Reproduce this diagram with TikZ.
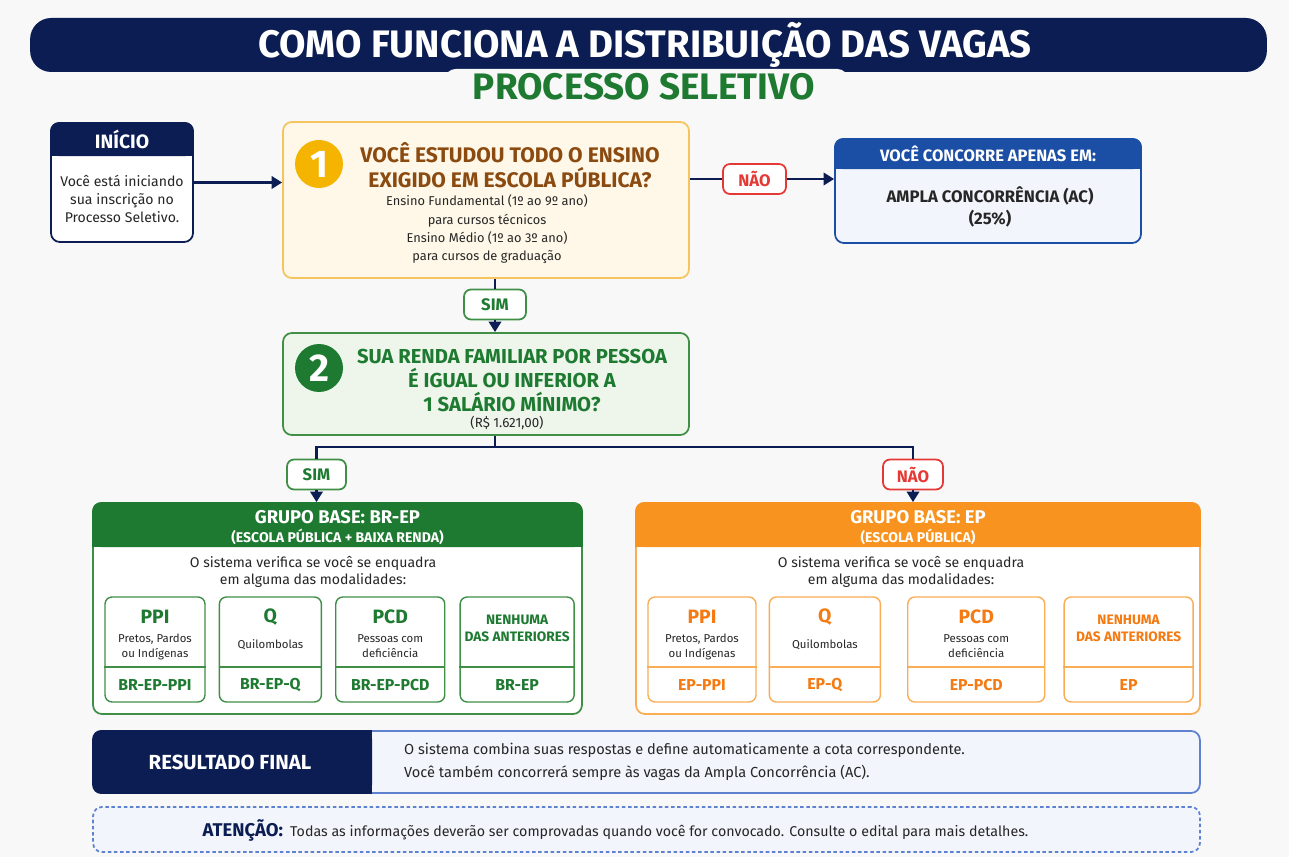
\documentclass[tikz,border=0pt]{standalone}
\usepackage{fontspec}
\setmainfont{Fira Sans}
\usetikzlibrary{calc, positioning, arrows.meta}

\definecolor{navy}{HTML}{0B1D52}
\definecolor{grn}{HTML}{1E7A31}
\definecolor{grnline}{HTML}{3F8F47}
\definecolor{grnfill}{HTML}{EEF6EC}
\definecolor{brwn}{HTML}{8A4A10}
\definecolor{gold}{HTML}{F5B400}
\definecolor{goldline}{HTML}{F6C45E}
\definecolor{goldfill}{HTML}{FFF8E8}
\definecolor{nored}{HTML}{E53935}
\definecolor{blu}{HTML}{1B4FA6}
\definecolor{bluline}{HTML}{5E82D0}
\definecolor{blufill}{HTML}{F2F5FC}
\definecolor{org}{HTML}{F7931E}
\definecolor{orgtxt}{HTML}{F47A12}
\definecolor{orgline}{HTML}{F9AE55}
\definecolor{txtgray}{HTML}{262626}
\definecolor{bg}{HTML}{F8F8F8}

\begin{document}
\begin{tikzpicture}[
        x=0.02cm, y=-0.02cm,
        box/.style={
            draw,
            rounded corners=5pt,
            line width=1pt,
            inner sep=0pt
        },
        tag/.style={
            draw,
            fill=white,
            rounded corners=4pt,
            line width=1pt,
            minimum height=0.6cm,
            font=\fontsize{9.5}{11}\selectfont\bfseries
        },
        link/.style={line width=1.6pt, draw=navy},
        arrow/.style={-{Triangle[length=6pt,width=7pt]}, line width=1.6pt, draw=navy},
        num/.style={circle, minimum size=0.96cm, inner sep=0pt, text=white,
            font=\fontsize{22}{22}\selectfont\bfseries},
        hdr/.style={text=white, align=center, font=\fontsize{11}{13}\selectfont\bfseries},
        qtitle/.style={align=center, font=\fontsize{12}{14.2}\selectfont\bfseries},
        body/.style={align=center, text=txtgray, font=\fontsize{7.3}{10.4}\selectfont},
        grphdr/.style={text=white, font=\fontsize{10.5}{12}\selectfont\bfseries},
        grpsub/.style={text=white, font=\fontsize{8}{10}\selectfont\bfseries},
        grpbody/.style={align=center, text=txtgray, font=\fontsize{8}{9.7}\selectfont},
        modbr/.style={box, draw=grnline, fill=white, minimum height=2.1cm, rounded corners=4pt, line width=0.8pt},
        modep/.style={box, draw=orgline, fill=white, minimum height=2.1cm, rounded corners=4pt, line width=0.8pt},
        modttl/.style={font=\fontsize{11}{13}\selectfont\bfseries},
        modsub/.style={align=center, text=txtgray, font=\fontsize{6.5}{8.5}\selectfont},
        modcode/.style={font=\fontsize{9}{11}\selectfont\bfseries},
        modnone/.style={align=center, font=\fontsize{7.8}{9.7}\selectfont\bfseries},
        restxt/.style={text=txtgray, font=\fontsize{8.3}{13}\selectfont}
    ]

    \useasboundingbox (0,0) rectangle (1289,857);
    \fill[bg] (0,0) rectangle (1289,857);

    % Title
    \node[fill=navy, rounded corners=12pt, minimum width=24.74cm, minimum height=1.08cm] (titlebar) at (648.5,45) {};
    \fill[bg, rounded corners=6pt] (445,69) rectangle (848,104);
    \node[text=white, font=\fontsize{21.8}{24}\selectfont\bfseries] (title) at (645,45) {COMO FUNCIONA A DISTRIBUIÇÃO DAS VAGAS};
    \node[text=grn, font=\fontsize{21}{24}\selectfont\bfseries] (subtitle) at (644,87) {PROCESSO SELETIVO};

    % Start
    \node[box, draw=navy, fill=white, minimum width=2.84cm, minimum height=2.38cm] (inicio) at (122,182.5) {};
    \fill[navy, rounded corners=5pt] (inicio.north west) rectangle ($(inicio.north east)+(0,34)$);
    \fill[navy] ($(inicio.north west)+(0,20)$) rectangle ($(inicio.north east)+(0,34)$);
    \node[hdr] (inicioh) at ($(inicio.north)+(0,17)$) {INÍCIO};
    \node[body, font=\fontsize{8}{10.2}\selectfont] (iniciob) at (122,199) {Você está iniciando\\ sua inscrição no\\ Processo Seletivo.};

    % Question 1
    \node[box, draw=goldline, fill=goldfill, minimum width=8.12cm, minimum height=3.12cm] (q1) at (486,200) {};
    \node[num, fill=gold] (num1) at (319,164) {1};
    \node[qtitle, text=brwn] (q1t) at (510,165.5) {VOCÊ ESTUDOU TODO O ENSINO\\ EXIGIDO EM ESCOLA PÚBLICA?};
    \node[body] (q1b) at (487,229.5) {Ensino Fundamental (1º ao 9º ano)\\ para cursos técnicos\\ Ensino Médio (1º ao 3º ano)\\ para cursos de graduação};

    % Answer no
    \node[tag, draw=nored, text=nored, minimum width=1.26cm] (nao1) at (754.5,179) {NÃO};

    \node[box, draw=blu, fill=blufill, minimum width=6.12cm, minimum height=2.08cm] (ac) at (988,191) {};
    \fill[blu, rounded corners=5pt] (ac.north west) rectangle ($(ac.north east)+(0,31)$);
    \fill[blu] ($(ac.north west)+(0,18)$) rectangle ($(ac.north east)+(0,31)$);
    \node[hdr, font=\fontsize{9.4}{10}\selectfont\bfseries] (ach) at ($(ac.north)+(0,16)$) {VOCÊ CONCORRE APENAS EM:};
    \node[align=center, text=txtgray, font=\fontsize{9.5}{12.5}\selectfont\bfseries] (acb) at (990,207) {AMPLA CONCORRÊNCIA (AC)\\ (25\%)};

    % Question 2
    \node[tag, draw=grnline, text=grn, minimum width=1.24cm] (sim1) at (495,304.5) {SIM};

    \node[box, draw=grnline, fill=grnfill, minimum width=8.12cm, minimum height=2.04cm] (q2) at (486,384) {};
    \node[num, fill=grn] (num2) at (319,368) {2};
    \node[qtitle, text=grn, font=\fontsize{11.5}{13.4}\selectfont\bfseries] (q2t) at (512,380.5) {SUA RENDA FAMILIAR POR PESSOA\\ É IGUAL OU INFERIOR A\\ 1 SALÁRIO MÍNIMO?};
    \node[body, font=\fontsize{7.6}{10}\selectfont] (q2b) at (507,423) {(R\$ 1.621,00)};

    \node[tag, draw=grnline, text=grn, minimum width=1.18cm] (sim2) at (316.5,474.5) {SIM};
    \node[tag, draw=nored, text=nored, minimum width=1.2cm] (nao2) at (913,474.5) {NÃO};
    \coordinate (split) at (495,447);

    % Groups
    \node[box, draw=grnline, fill=white, minimum width=9.78cm, minimum height=4.22cm] (grpbr) at (337.5,608.5) {};
    \fill[grn, rounded corners=5pt] (grpbr.north west) rectangle ($(grpbr.north east)+(0,45)$);
    \fill[grn] ($(grpbr.north west)+(0,25)$) rectangle ($(grpbr.north east)+(0,45)$);
    \node[grphdr] (grpbrh) at ($(grpbr.north)+(0,15)$) {GRUPO BASE: BR-EP};
    \node[grpsub] (grpbrs) at ($(grpbr.north)+(0,35)$) {(ESCOLA PÚBLICA + BAIXA RENDA)};
    \node[grpbody] (grpbrb) at (313,571.5) {O sistema verifica se você se enquadra\\ em alguma das modalidades:};

    \node[box, draw=orgline, fill=white, minimum width=11.28cm, minimum height=4.22cm] (grpep) at (918,608.5) {};
    \fill[org, rounded corners=5pt] (grpep.north west) rectangle ($(grpep.north east)+(0,45)$);
    \fill[org] ($(grpep.north west)+(0,25)$) rectangle ($(grpep.north east)+(0,45)$);
    \node[grphdr] (grpeph) at ($(grpep.north)+(0,15)$) {GRUPO BASE: EP};
    \node[grpsub] (grpeps) at ($(grpep.north)+(0,35)$) {(ESCOLA PÚBLICA)};
    \node[grpbody] (grpepb) at (901,571.5) {O sistema verifica se você se enquadra\\ em alguma das modalidades:};

    % Rows inside the modality boxes
    \coordinate (ttlrow) at (0,617);
    \coordinate (subrow) at (0,646.5);
    \coordinate (nonerow) at (0,628.5);
    \coordinate (divrow) at (0,667);
    \coordinate (coderow) at (0,685);

    % Modalities BR-EP
    \node[modbr, minimum width=2.0cm] (brppi) at (155,649.5) {};
    \node[modbr, minimum width=2.04cm, right=0.26cm of brppi] (brq) {};
    \node[modbr, minimum width=2.18cm, right=0.26cm of brq] (brpcd) {};
    \node[modbr, minimum width=2.28cm, right=0.28cm of brpcd] (brnen) {};

    \draw[grnline, line width=0.8pt] (brppi.west |- divrow) -- (brppi.east |- divrow);
    \draw[grnline, line width=0.8pt] (brq.west |- divrow) -- (brq.east |- divrow);
    \draw[grnline, line width=0.8pt] (brpcd.west |- divrow) -- (brpcd.east |- divrow);
    \draw[grnline, line width=0.8pt] (brnen.west |- divrow) -- (brnen.east |- divrow);

    \node[modttl, text=grn] (brppit) at (brppi |- ttlrow) {PPI};
    \node[modsub] (brppis) at (brppi |- subrow) {Pretos, Pardos\\ ou Indígenas};
    \node[modcode, text=grn] (brppic) at (brppi |- coderow) {BR-EP-PPI};

    \node[modttl, text=grn] (brqt) at (brq |- ttlrow) {Q};
    \node[modsub] (brqs) at ($(brq |- subrow)+(0,-2)$) {Quilombolas};
    \node[modcode, text=grn] (brqc) at (brq |- coderow) {BR-EP-Q};

    \node[modttl, text=grn] (brpcdt) at (brpcd |- ttlrow) {PCD};
    \node[modsub] (brpcds) at (brpcd |- subrow) {Pessoas com\\ deficiência};
    \node[modcode, text=grn] (brpcdc) at (brpcd |- coderow) {BR-EP-PCD};

    \node[modnone, text=grn] (brnent) at (brnen |- nonerow) {NENHUMA\\ DAS ANTERIORES};
    \node[modcode, text=grn] (brnenc) at (brnen |- coderow) {BR-EP};

    % Modalities EP
    \node[modep, minimum width=2.16cm] (epppi) at (702,649.5) {};
    \node[modep, minimum width=2.22cm, right=0.24cm of epppi] (epq) {};
    \node[modep, minimum width=2.74cm, right=0.52cm of epq] (eppcd) {};
    \node[modep, minimum width=2.58cm, right=0.36cm of eppcd] (epnen) {};

    \draw[orgline, line width=0.8pt] (epppi.west |- divrow) -- (epppi.east |- divrow);
    \draw[orgline, line width=0.8pt] (epq.west |- divrow) -- (epq.east |- divrow);
    \draw[orgline, line width=0.8pt] (eppcd.west |- divrow) -- (eppcd.east |- divrow);
    \draw[orgline, line width=0.8pt] (epnen.west |- divrow) -- (epnen.east |- divrow);

    \node[modttl, text=orgtxt] (epppit) at (epppi |- ttlrow) {PPI};
    \node[modsub] (epppis) at (epppi |- subrow) {Pretos, Pardos\\ ou Indígenas};
    \node[modcode, text=orgtxt] (epppic) at (epppi |- coderow) {EP-PPI};

    \node[modttl, text=orgtxt] (epqt) at (epq |- ttlrow) {Q};
    \node[modsub] (epqs) at ($(epq |- subrow)+(0,-2)$) {Quilombolas};
    \node[modcode, text=orgtxt] (epqc) at (epq |- coderow) {EP-Q};

    \node[modttl, text=orgtxt] (eppcdt) at (eppcd |- ttlrow) {PCD};
    \node[modsub] (eppcds) at (eppcd |- subrow) {Pessoas com\\ deficiência};
    \node[modcode, text=orgtxt] (eppcdc) at (eppcd |- coderow) {EP-PCD};

    \node[modnone, text=orgtxt] (epnent) at (epnen |- nonerow) {NENHUMA\\ DAS ANTERIORES};
    \node[modcode, text=orgtxt] (epnenc) at (epnen |- coderow) {EP};

    % Final result
    \node[box, draw=bluline, fill=blufill, minimum width=22.14cm, minimum height=1.24cm] (res) at (646.5,762) {};
    \coordinate (resdiv) at (372,0);
    \fill[navy, rounded corners=5pt] (res.north west) rectangle (res.south -| resdiv);
    \fill[navy] ($(res.north -| resdiv)+(-12,0)$) rectangle (res.south -| resdiv);
    \node[text=white, font=\fontsize{11.6}{13}\selectfont\bfseries] (resh) at (230,762) {RESULTADO FINAL};
    \node[restxt, align=left, anchor=west] (rest) at (398,762) {O sistema combina suas respostas e define automaticamente a cota correspondente.\\ Você também concorrerá sempre às vagas da Ampla Concorrência (AC).};

    % Attention
    \node[box, draw=bluline, dash pattern=on 2pt off 1.5pt, fill=blufill, minimum width=22.14cm, minimum height=0.9cm] (aten) at (646.5,829.5) {};
    \node[restxt, font=\fontsize{8.1}{12}\selectfont] (atent) at (615.5,830) {{\color{navy}\fontsize{10.5}{12}\selectfont\bfseries ATENÇÃO:}\enspace Todas as informações deverão ser comprovadas quando você for convocado. Consulte o edital para mais detalhes.};

    % Arrows
    \draw[arrow] (inicio.east) -- (q1.west |- inicio.east);
    \draw[link] (q1.east |- nao1) -- (nao1);
    \draw[arrow] (nao1) -- (ac.west |- nao1);

    \draw[link] (q1.south -| sim1) -- (sim1);
    \draw[arrow] (sim1) -- (sim1 |- q2.north);

    \draw[link] (q2.south -| sim1) -- (split);
    \draw[link] (split) -| (sim2.north);
    \draw[link] (split) -| (nao2.north);
    \draw[arrow] (sim2.south) -- (sim2.south |- grpbr.north);
    \draw[arrow] (nao2.south) -- (nao2.south |- grpep.north);

\end{tikzpicture}
\end{document}
